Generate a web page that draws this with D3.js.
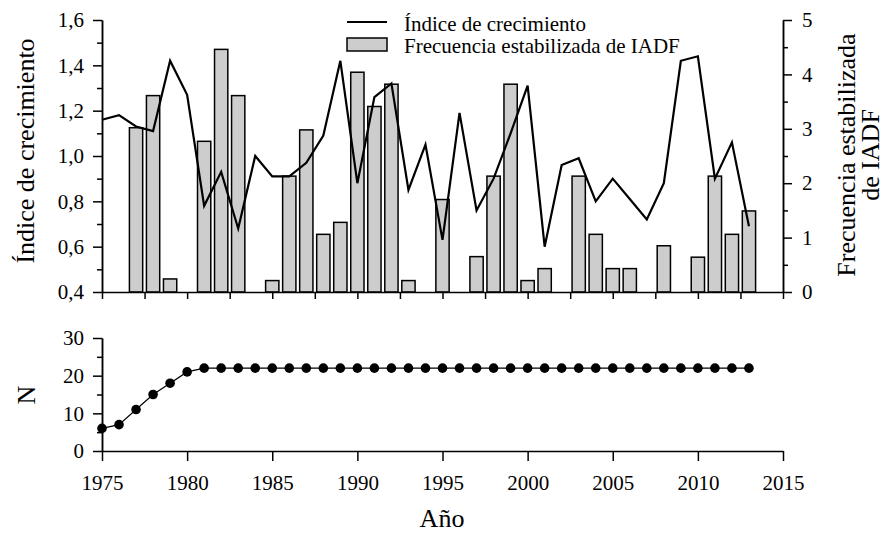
<!DOCTYPE html>
<html>
<head>
<meta charset="utf-8">
<script src="https://cdn.jsdelivr.net/npm/d3@7"></script>
<style>
  body { margin: 0; background: #fff; }
  svg text { font-family: "Liberation Serif", "Times New Roman", serif; fill: #000; }
  .axis path, .axis line { stroke: #000; stroke-width: 1.5; }
</style>
</head>
<body>
<svg id="chart" width="885" height="535"></svg>
<script>
// Years shown
const years = [1975, 1976, 1977, 1978, 1979, 1980, 1981, 1982, 1983, 1984,
  1985, 1986, 1987, 1988, 1989, 1990, 1991, 1992, 1993, 1994,
  1995, 1996, 1997, 1998, 1999, 2000, 2001, 2002, 2003, 2004,
  2005, 2006, 2007, 2008, 2009, 2010, 2011, 2012, 2013];

// Índice de crecimiento (left axis)
const indice = [1.16, 1.18, 1.13, 1.11, 1.42, 1.27, 0.78, 0.93, 0.68, 1.00,
  0.91, 0.91, 0.97, 1.09, 1.42, 0.88, 1.26, 1.32, 0.85, 1.05,
  0.63, 1.19, 0.76, 0.90, 1.10, 1.31, 0.60, 0.96, 0.99, 0.80,
  0.90, 0.81, 0.72, 0.88, 1.42, 1.44, 0.90, 1.06, 0.69];

// Frecuencia estabilizada de IADF (right axis), null = no bar
const iadf = [null, null, 3.02, 3.61, 0.24, null, 2.77, 4.46, 3.61, null,
  0.21, 2.13, 2.98, 1.06, 1.28, 4.04, 3.41, 3.82, 0.21, null,
  1.70, null, 0.65, 2.13, 3.82, 0.21, 0.43, null, 2.13, 1.06,
  0.43, 0.43, null, 0.85, null, 0.64, 2.13, 1.06, 1.49];

// N (sample depth)
const nSeries = [6, 7, 11, 15, 18, 21, 22, 22, 22, 22,
  22, 22, 22, 22, 22, 22, 22, 22, 22, 22,
  22, 22, 22, 22, 22, 22, 22, 22, 22, 22,
  22, 22, 22, 22, 22, 22, 22, 22, 22];

const leftTicks = [0.4, 0.6, 0.8, 1.0, 1.2, 1.4, 1.6];
const rightTicks = [0, 1, 2, 3, 4, 5];
const nTicks = [0, 10, 20, 30];
const yearTicks = [1975, 1980, 1985, 1990, 1995, 2000, 2005, 2010, 2015];

const FONT = '"Liberation Serif", "Times New Roman", serif';
const svg = d3.select('#chart');
const locale = d3.formatLocale({ decimal: ',', thousands: '.', grouping: [3], currency: ['', ''] });
const fmt1 = locale.format('.1f');

const x = d3.scaleLinear().domain([1975, 2015]).range([102, 783]);
const yL = d3.scaleLinear().domain([0.4, 1.6]).range([292, 20]);
const yR = d3.scaleLinear().domain([0, 5]).range([292, 20]);
const yN = d3.scaleLinear().domain([0, 30]).range([451, 338]);

const barW = (x(1976) - x(1975)) * 0.78;

function styleAxis(g) {
  g.attr('class', 'axis').attr('font-family', FONT).attr('font-size', 21);
  g.selectAll('text').attr('fill', '#000');
}

// Bars
svg.append('g').selectAll('rect')
  .data(years.map((yr, i) => ({ yr, v: iadf[i] })).filter(d => d.v != null))
  .enter().append('rect')
  .attr('x', d => x(d.yr) - barW / 2)
  .attr('y', d => yR(d.v))
  .attr('width', barW)
  .attr('height', d => yR(0) - yR(d.v))
  .attr('fill', '#cdcdcd')
  .attr('stroke', '#000')
  .attr('stroke-width', 1.5);

// Growth index line
const line = d3.line().x((d, i) => x(years[i])).y(d => yL(d));
svg.append('path').datum(indice)
  .attr('d', line)
  .attr('fill', 'none')
  .attr('stroke', '#000')
  .attr('stroke-width', 2.2);

// Top axes
svg.append('g').attr('transform', 'translate(102,0)')
  .call(d3.axisLeft(yL).tickValues(leftTicks).tickFormat(fmt1).tickSize(9).tickPadding(9).tickSizeOuter(0))
  .call(styleAxis);
svg.append('g').attr('transform', 'translate(102,0)')
  .call(d3.axisLeft(yL).tickValues([0.5, 0.7, 0.9, 1.1, 1.3, 1.5]).tickFormat('').tickSize(5).tickSizeOuter(0))
  .call(styleAxis);

svg.append('g').attr('transform', 'translate(783,0)')
  .call(d3.axisRight(yR).tickValues(rightTicks).tickFormat(d3.format('d')).tickSize(9).tickPadding(10).tickSizeOuter(0))
  .call(styleAxis);
svg.append('g').attr('transform', 'translate(783,0)')
  .call(d3.axisRight(yR).tickValues([0.5, 1.5, 2.5, 3.5, 4.5]).tickFormat('').tickSize(5).tickSizeOuter(0))
  .call(styleAxis);

svg.append('g').attr('transform', 'translate(0,292)')
  .call(d3.axisBottom(x).tickValues([1975, 1977.5, 1980, 1982.5, 1985, 1987.5, 1990, 1992.5, 1995,
    1997.5, 2000, 2002.5, 2005, 2007.5, 2010, 2012.5, 2015]).tickFormat('').tickSize(7).tickSizeOuter(0))
  .call(styleAxis);

// Bottom panel
svg.append('path').datum(nSeries)
  .attr('d', d3.line().x((d, i) => x(years[i])).y(d => yN(d)))
  .attr('fill', 'none')
  .attr('stroke', '#000')
  .attr('stroke-width', 1.2);
svg.append('g').selectAll('circle')
  .data(nSeries)
  .enter().append('circle')
  .attr('cx', (d, i) => x(years[i]))
  .attr('cy', d => yN(d))
  .attr('r', 4.8)
  .attr('fill', '#000');

svg.append('g').attr('transform', 'translate(102,0)')
  .call(d3.axisLeft(yN).tickValues(nTicks).tickSize(9).tickPadding(9).tickSizeOuter(0))
  .call(styleAxis);
svg.append('g').attr('transform', 'translate(102,0)')
  .call(d3.axisLeft(yN).tickValues([5, 15, 25]).tickFormat('').tickSize(5).tickSizeOuter(0))
  .call(styleAxis);
svg.append('g').attr('transform', 'translate(0,451)')
  .call(d3.axisBottom(x).tickValues(yearTicks).tickFormat(d3.format('d')).tickSize(10).tickPadding(14).tickSizeOuter(0))
  .call(styleAxis);

// Axis titles
function title(tr, txt) {
  svg.append('text').attr('transform', tr)
    .attr('text-anchor', 'middle').attr('font-family', FONT).attr('font-size', 26).text(txt);
}
title('translate(34,151) rotate(-90)', 'Índice de crecimiento');
title('translate(855,155) rotate(-90)', 'Frecuencia estabilizada');
title('translate(879,155) rotate(-90)', 'de IADF');
title('translate(35,395) rotate(-90)', 'N');
title('translate(442,527)', 'Año');

// Legend
const legend = svg.append('g').attr('font-family', FONT).attr('font-size', 21);
legend.append('line').attr('x1', 347).attr('x2', 387).attr('y1', 22).attr('y2', 22)
  .attr('stroke', '#000').attr('stroke-width', 2.2);
legend.append('rect').attr('x', 347).attr('y', 38).attr('width', 40).attr('height', 13)
  .attr('fill', '#cdcdcd').attr('stroke', '#000').attr('stroke-width', 1.5);
legend.append('text').attr('x', 404).attr('y', 31).text('Índice de crecimiento');
legend.append('text').attr('x', 404).attr('y', 53).text('Frecuencia estabilizada de IADF');
</script>
</body>
</html>
